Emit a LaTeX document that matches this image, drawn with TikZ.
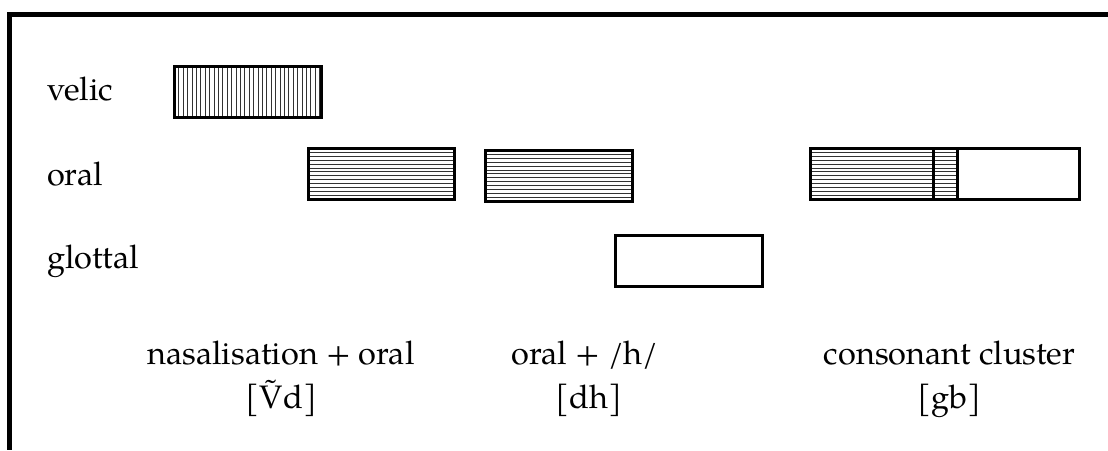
\documentclass[tikz,border=0pt]{standalone}
\usepackage{fontspec}
\setmainfont{TeX Gyre Pagella}
\begin{document}
\begin{tikzpicture}[x=1pt,y=-1pt,
  frameline/.style={line width=4.8pt},
  hatch/.style={line width=0.9pt, black!80},
  gesture/.style={draw, line width=3pt, inner sep=0pt, outer sep=0pt,
    minimum height=51pt, minimum width=147pt},
  vhatch/.style={path picture={
    \foreach \k in {1,...,34}{
      \draw[hatch] ([xshift=\k*4.4pt]path picture bounding box.north west)
        -- ([xshift=\k*4.4pt]path picture bounding box.south west);}}},
  hhatch/.style={path picture={
    \foreach \k in {1,...,13}{
      \draw[hatch] ([yshift=-\k*3.9pt]path picture bounding box.north west)
        -- ([yshift=-\k*3.9pt]path picture bounding box.north east);}}},
  tier/.style={anchor=base west, inner sep=0pt, font=\fontsize{32.5}{38}\selectfont},
  caption/.style={anchor=base, inner sep=0pt, font=\fontsize{32.5}{38}\selectfont}
]
\useasboundingbox (0,0) rectangle (1108,450);

% frame: top and left edges
\draw[frameline] (7.3,14.3) -- (1108,14.3);
\draw[frameline] (9.7,12) -- (9.7,450);

% tier labels
\node[tier] (velic) at (47,100) {velic};
\node[tier] (oral) at (47,185) {oral};
\node[tier] (glottal) at (47,268) {glottal};

% nasalisation + oral
\node[gesture, vhatch] (velum) at (248,92) {};
\node[gesture, hhatch, minimum width=146pt] (oralA) at (381.5,174) {};

% oral + /h/
\node[gesture, hhatch] (oralB) at (559,176) {};
\node[gesture] (glotB) at (689,260.5) {};

% consonant cluster: overlapping closures
\node[gesture, hhatch, minimum width=122.5pt, anchor=west] (ccA) at (810.5,174) {};
\node[gesture, hhatch, minimum width=24pt, anchor=west] (ccB) at (ccA.east) {};
\node[gesture, minimum width=122.5pt, anchor=west] (ccC) at (ccB.east) {};

% captions
\node[caption] (capA) at (281,364) {nasalisation + oral};
\node[caption] (ipaA) at (281.5,408) {[\~{V}d]};
\node[caption] (capB) at (585,364) {oral + /h/};
\node[caption] (ipaB) at (589,408) {[dh]};
\node[caption] (capC) at (949.5,364) {consonant cluster};
\node[caption] (ipaC) at (949.5,408) {[gb]};
\end{tikzpicture}
\end{document}
